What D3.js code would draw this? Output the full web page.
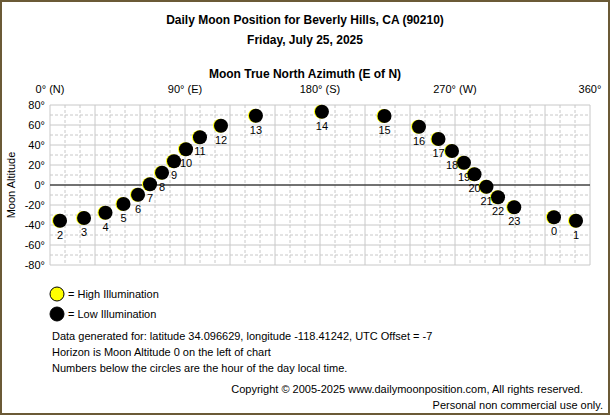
<!DOCTYPE html>
<html><head><meta charset="utf-8">
<script src="https://cdn.jsdelivr.net/npm/d3@7"></script>
<style>body{margin:0;background:#fff;}text{font-family:"Liberation Sans",Arial,sans-serif;}</style>
</head><body><svg id="chart"></svg>
<script>
// hourly moon positions
const hours = [2,3,4,5,6,7,8,9,10,11,12,13,14,15,16,17,18,19,20,21,22,23,0,1];
const azimuth = [6.7,22.7,37,49,58.7,66.7,74.7,82.7,90.7,100,114,137.3,181.3,223,246,259,268,276,283,291,298.7,309.5,336,350.7];
const altitude = [-35.7,-33,-27.7,-19,-9.7,0.7,12.3,23.7,35.7,47.7,59.3,69.3,73.3,69,58.3,46,34,22.3,10.7,-1.7,-12.3,-22.3,-32.3,-35.7];
const xTicks = [0,90,180,270,360];
const xTickLabels = ["0° (N)","90° (E)","180° (S)","270° (W)","360°"];
const yTicks = [80,60,40,20,0,-20,-40,-60,-80];

const W = 610, H = 415;
const svg = d3.select("#chart").attr("width", W).attr("height", H);
svg.append("rect").attr("x",1).attr("y",1).attr("width",W-2).attr("height",H-2)
    .attr("fill","#fff").attr("stroke","#6b5a36").attr("stroke-width",2);

const x = d3.scaleLinear().domain([0,360]).range([50,590]);
const y = d3.scaleLinear().domain([-80,80]).range([265,105]);

// titles
svg.append("text").attr("x",305).attr("y",24).attr("text-anchor","middle")
    .style("font-size","12px").style("font-weight","bold").text("Daily Moon Position for Beverly Hills, CA (90210)");
svg.append("text").attr("x",305).attr("y",44).attr("text-anchor","middle")
    .style("font-size","12px").style("font-weight","bold").text("Friday, July 25, 2025");
svg.append("text").attr("x",305).attr("y",78).attr("text-anchor","middle")
    .style("font-size","12px").style("font-weight","bold").text("Moon True North Azimuth (E of N)");

// grid
const grid = svg.append("g");
grid.selectAll(".vg").data(d3.range(0,361,10)).enter().append("line")
    .attr("x1",d=>x(d)).attr("x2",d=>x(d)).attr("y1",y(80)).attr("y2",y(-80))
    .attr("stroke","#c8c8c8").attr("stroke-dasharray",d=>d%30===0?null:"3,2");
grid.selectAll(".hg").data(d3.range(-80,81,10)).enter().append("line")
    .attr("x1",x(0)).attr("x2",x(360)).attr("y1",d=>y(d)).attr("y2",d=>y(d))
    .attr("stroke","#c8c8c8").attr("stroke-dasharray",d=>d%20===0?null:"3,2");
svg.append("line").attr("x1",x(0)).attr("x2",x(360)).attr("y1",y(0)).attr("y2",y(0))
    .attr("stroke","#000");

// axes labels
svg.selectAll(".xl").data(xTicks).enter().append("text")
    .attr("x",d=>x(d)).attr("y",93).attr("text-anchor","middle")
    .style("font-size","11px").text((d,i)=>xTickLabels[i]);
svg.selectAll(".yl").data(yTicks).enter().append("text")
    .attr("x",45).attr("y",d=>y(d)+4).attr("text-anchor","end")
    .style("font-size","11px").text(d=>d+"°");
svg.append("text").attr("transform","translate(15,185) rotate(-90)").attr("text-anchor","middle")
    .style("font-size","11px").text("Moon Altitude");

// moon points
const pts = hours.map((h,i)=>({h, az:azimuth[i], alt:altitude[i]}));
const g = svg.append("g");
g.selectAll(".rim").data(pts).enter().append("circle")
    .attr("cx",d=>x(d.az)-1).attr("cy",d=>y(d.alt)).attr("r",7).attr("fill","#ffff00");
g.selectAll(".moon").data(pts).enter().append("circle")
    .attr("cx",d=>x(d.az)).attr("cy",d=>y(d.alt)).attr("r",7).attr("fill","#000");
g.selectAll(".hr").data(pts).enter().append("text")
    .attr("x",d=>x(d.az)).attr("y",d=>y(d.alt)+18).attr("text-anchor","middle")
    .style("font-size","11px").text(d=>d.h);

// legend
const legend = [{label:"= High Illumination", fill:"#ffff00", y:294},{label:"= Low Illumination", fill:"#000", y:314}];
svg.selectAll(".lc").data(legend).enter().append("circle")
    .attr("cx",57).attr("cy",d=>d.y).attr("r",7).attr("fill",d=>d.fill).attr("stroke","#000");
svg.selectAll(".lt").data(legend).enter().append("text")
    .attr("x",68).attr("y",d=>d.y+4).style("font-size","11px").text(d=>d.label);

const notes = ["Data generated for: latitude 34.096629, longitude -118.41242, UTC Offset = -7",
    "Horizon is Moon Altitude 0 on the left of chart",
    "Numbers below the circles are the hour of the day local time."];
svg.selectAll(".nt").data(notes).enter().append("text")
    .attr("x",52).attr("y",(d,i)=>340+i*16).style("font-size","11px").text(d=>d);
svg.append("text").attr("x",583).attr("y",393).attr("text-anchor","end").style("font-size","11px")
    .text("Copyright © 2005-2025 www.dailymoonposition.com, All rights reserved.");
svg.append("text").attr("x",603).attr("y",409).attr("text-anchor","end").style("font-size","11px")
    .text("Personal non commercial use only.");
</script></body></html>
